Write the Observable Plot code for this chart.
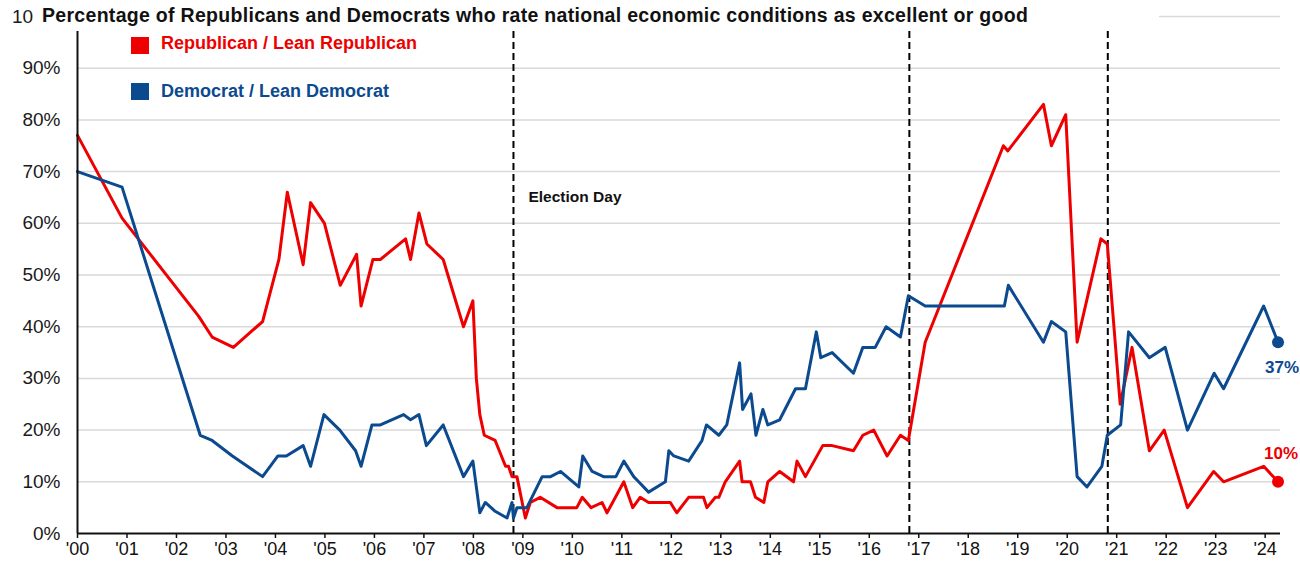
<!DOCTYPE html>
<html><head><meta charset="utf-8">
<script src="https://cdn.jsdelivr.net/npm/d3@7"></script>
<script src="https://cdn.jsdelivr.net/npm/@observablehq/plot@0.6"></script>
<style>
body{margin:0;background:#fff;font-family:"Liberation Sans",Arial,sans-serif;}
#wrap{position:relative;width:1300px;height:566px;overflow:hidden;}
#title{position:absolute;left:33px;top:0;width:1126px;height:31px;background:#fff;font-weight:bold;font-size:19.5px;letter-spacing:0.3px;line-height:31px;padding-left:9px;box-sizing:border-box;color:#111;white-space:nowrap;}
.leg{position:absolute;font-weight:bold;font-size:18px;white-space:nowrap;line-height:20px;}
.sw{position:absolute;width:18px;height:17px;}
</style></head><body>
<div id="wrap"><div id="chart"></div>
<div id="title">Percentage of Republicans and Democrats who rate national economic conditions as excellent or good</div>
<div class="sw" style="left:131px;top:37px;background:#ee0000"></div>
<div class="leg" style="left:161px;top:33px;color:#ee0000">Republican / Lean Republican</div>
<div class="sw" style="left:131px;top:83px;background:#0b4a8f"></div>
<div class="leg" style="left:161px;top:81px;color:#0b4a8f">Democrat / Lean Democrat</div>
</div>
<script>
const repDates = [2000.0,2000.9,2002.45,2002.72,2003.15,2003.74,2004.07,2004.24,2004.56,2004.71,2004.99,2005.31,2005.64,2005.73,2005.97,2006.12,2006.63,2006.73,2006.90,2007.06,2007.39,2007.80,2007.99,2008.06,2008.13,2008.22,2008.44,2008.65,2008.71,2008.78,2008.88,2009.05,2009.15,2009.35,2009.69,2010.09,2010.20,2010.38,2010.60,2010.70,2011.04,2011.22,2011.37,2011.54,2011.98,2012.11,2012.35,2012.65,2012.72,2012.89,2012.96,2013.09,2013.38,2013.43,2013.60,2013.70,2013.87,2013.95,2014.19,2014.47,2014.54,2014.71,2015.06,2015.25,2015.68,2015.87,2016.09,2016.36,2016.63,2016.79,2017.13,2018.71,2018.80,2019.52,2019.68,2019.97,2020.20,2020.68,2020.81,2021.07,2021.31,2021.66,2021.96,2022.43,2022.96,2023.16,2023.97,2024.26];
const repValues = [77,61,42,38,36,41,53,66,52,64,60,48,54,44,53,53,57,53,62,56,53,40,45,30,23,19,18,13,13,11,11,3,6,7,5,5,7,5,6,4,10,5,7,6,6,4,7,7,5,7,7,10,14,10,10,7,6,10,12,10,14,11,17,17,16,19,20,15,19,18,37,75,74,83,75,81,37,57,56,25,36,16,20,5,12,10,13,10];
const demDates = [2000.0,2000.9,2002.48,2002.72,2003.13,2003.74,2004.05,2004.22,2004.56,2004.71,2004.98,2005.30,2005.62,2005.73,2005.95,2006.12,2006.59,2006.73,2006.90,2007.05,2007.39,2007.80,2007.99,2008.13,2008.24,2008.44,2008.68,2008.78,2008.81,2008.88,2009.08,2009.39,2009.56,2009.76,2010.13,2010.21,2010.40,2010.63,2010.88,2011.04,2011.24,2011.34,2011.54,2011.88,2011.95,2012.05,2012.35,2012.62,2012.71,2012.96,2013.12,2013.38,2013.44,2013.61,2013.71,2013.85,2013.95,2014.19,2014.51,2014.71,2014.93,2015.02,2015.25,2015.68,2015.87,2016.12,2016.34,2016.63,2016.79,2017.13,2018.73,2018.81,2019.52,2019.68,2019.97,2020.20,2020.40,2020.70,2020.81,2021.08,2021.24,2021.66,2021.98,2022.43,2022.97,2023.16,2023.97,2024.26];
const demValues = [70,67,19,18,15,11,15,15,17,13,23,20,16,13,21,21,23,22,23,17,21,11,14,4,6,4.3,3,6,3,5,5,11,11,12,9,15,12,11,11,14,11,10,8,10,16,15,14,18,21,19,21,33,24,27,19,24,21,22,28,28,39,34,35,31,36,36,40,38,46,44,44,48,37,41,39,11,9,13,19,21,39,34,36,20,31,28,44,37];
const tickYears = d3.range(2000, 2025);
const yTicks = d3.range(0, 101, 10);
const electionDays = [2008.81, 2016.81, 2020.82];
const electionLabel = "Election Day";

const RED = "#ee0000", BLUE = "#0b4a8f";
const rep = repDates.map((d, i) => ({date: d, value: repValues[i]}));
const dem = demDates.map((d, i) => ({date: d, value: demValues[i]}));
const lastRep = rep[rep.length - 1], lastDem = dem[dem.length - 1];

const chart = Plot.plot({
  width: 1300, height: 566,
  marginLeft: 77, marginRight: 20, marginTop: 16, marginBottom: 33,
  style: {fontFamily: "Liberation Sans, Arial, sans-serif", fontSize: "18px", color: "#1a1a1a", background: "white"},
  x: {domain: [2000, 2024.31], label: null},
  y: {domain: [0, 100], label: null},
  marks: [
    Plot.gridY(yTicks.filter(d => d > 0), {stroke: "#d9d9d9", strokeOpacity: 1, strokeWidth: 1.5}),
    Plot.axisY(yTicks, {tickSize: 0, tickPadding: 17, tickFormat: d => d + "%", fontSize: 19, color: "#1a1a1a", label: null}),
    Plot.axisX(tickYears, {tickSize: 5, tickPadding: 4, tickFormat: d => "'" + String(d % 100).padStart(2, "0"), fontSize: 18, color: "#111", strokeWidth: 1.5, label: null}),
    Plot.ruleX(electionDays, {y1: 0, y2: 100, stroke: "black", strokeWidth: 2, strokeDasharray: "7,4"}),
    Plot.text([electionLabel], {x: electionDays[0], y: 65, dx: 15, text: d => d, textAnchor: "start", fontWeight: "bold", fontSize: 15.5, fill: "#111"}),
    Plot.line(rep, {x: "date", y: "value", stroke: RED, strokeWidth: 3}),
    Plot.line(dem, {x: "date", y: "value", stroke: BLUE, strokeWidth: 3}),
    Plot.ruleY([0], {stroke: "#111", strokeWidth: 2}),
    Plot.ruleX([2000], {y1: 0, y2: 100, stroke: "#111", strokeWidth: 2}),
    Plot.dot([lastRep], {x: "date", y: "value", r: 6, fill: RED}),
    Plot.dot([lastDem], {x: "date", y: "value", r: 6, fill: BLUE}),
    Plot.text([lastDem], {x: "date", y: "value", text: d => d.value + "%", dx: 4, dy: 25, fill: BLUE, fontWeight: "bold", fontSize: 17}),
    Plot.text([lastRep], {x: "date", y: "value", text: d => d.value + "%", dx: 3, dy: -28, fill: RED, fontWeight: "bold", fontSize: 17})
  ]
});
document.getElementById("chart").appendChild(chart);
</script>
</body></html>
